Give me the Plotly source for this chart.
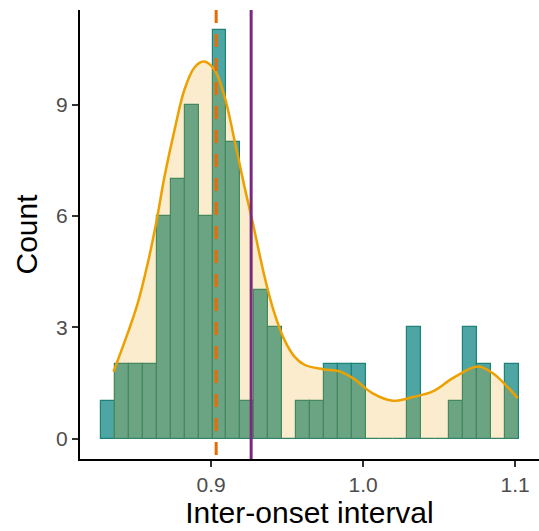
import numpy as np
import plotly.graph_objects as go

# ---- data ----
bin_start = 0.8276
bin_width = 0.00916
counts = [1, 2, 2, 2, 6, 7, 9, 6, 11, 8, 1, 4, 3, 0, 1,
          1, 2, 2, 2, 0, 0, 0, 3, 0, 0, 1, 3, 2, 0, 2]

dens_x = [0.8357, 0.8451, 0.8517, 0.8583, 0.8638, 0.8693, 0.8759, 0.8824,
          0.8890, 0.8951, 0.9022, 0.9088, 0.9153, 0.9219, 0.9274,
          0.9351, 0.9416, 0.9482, 0.9548, 0.9614, 0.9734, 0.9844, 0.9932,
          1.0063, 1.0195, 1.0326, 1.0458, 1.0590, 1.0754, 1.0853, 1.0941,
          1.1017]
dens_y = [1.80, 2.84, 3.65, 4.73, 5.81, 7.06, 8.32, 9.40,
          10.00, 10.16, 9.94, 9.22, 8.05, 6.79, 5.81,
          4.37, 3.38, 2.66, 2.21, 1.99, 1.87, 1.81, 1.63,
          1.22, 1.02, 1.12, 1.27, 1.63, 1.94, 1.76, 1.43,
          1.09]

median_val = 0.9033
mean_val = 0.9263

x_ticks = [0.9, 1.0, 1.1]
x_ticktext = ["0.9", "1.0", "1.1"]
y_ticks = [0, 3, 6, 9]

centers = bin_start + bin_width * (np.arange(len(counts)) + 0.5)

fig = go.Figure()
fig.add_trace(go.Bar(
    x=centers, y=counts, width=bin_width,
    marker=dict(color="rgba(33,144,140,0.8)",
                line=dict(color="#1f8276", width=1.2)),
    showlegend=False, hoverinfo="skip"))
fig.add_trace(go.Scatter(
    x=dens_x, y=dens_y, mode="lines", line_shape="spline",
    line=dict(color="#EDA000", width=2.5, smoothing=1.0),
    fill="tozeroy", fillcolor="rgba(230,159,0,0.2)",
    showlegend=False, hoverinfo="skip"))

fig.add_shape(type="line", xref="x", yref="paper", x0=median_val, x1=median_val,
              y0=1, y1=0, line=dict(color="#EE6A00", width=3, dash="13px,11px"))
fig.add_shape(type="line", xref="x", yref="paper", x0=mean_val, x1=mean_val,
              y0=0, y1=1, line=dict(color="#7A2A7E", width=3))

axis_font = dict(family="Liberation Sans, Arial, sans-serif", size=21, color="#4D4D4D")
title_font = dict(family="Liberation Sans, Arial, sans-serif", size=30, color="black")

fig.update_layout(
    width=539, height=531,
    margin=dict(l=80, r=0, t=10, b=72, autoexpand=False),
    plot_bgcolor="white", paper_bgcolor="white",
    bargap=0,
    xaxis=dict(range=[0.8137, 1.1157], tickvals=x_ticks, ticktext=x_ticktext,
               automargin=False,
               showgrid=False, zeroline=False, showline=True, linecolor="black",
               linewidth=2, ticks="outside", ticklen=6, tickcolor="#333333",
               tickwidth=1.5, tickfont=axis_font,
               title=dict(text="Inter-onset interval", font=title_font, standoff=4)),
    yaxis=dict(range=[-0.55, 11.55], tickvals=y_ticks,
               automargin=False,
               showgrid=False, zeroline=False, showline=True, linecolor="black",
               linewidth=2, ticks="outside", ticklen=6, tickcolor="#333333",
               tickwidth=1.5, tickfont=axis_font,
               title=dict(text="Count", font=title_font, standoff=10)),
)

fig.write_html("out.html", config={"displayModeBar": False},
               post_script="document.body.style.margin='0';document.body.style.overflow='hidden';")
